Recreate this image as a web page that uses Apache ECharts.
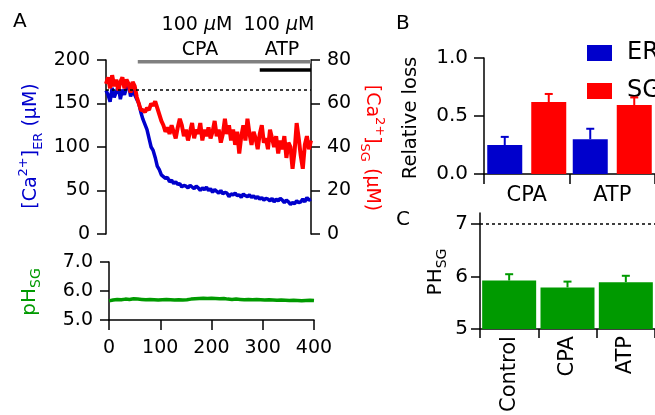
<!DOCTYPE html>
<html><head><meta charset="utf-8">
<script src="https://cdn.jsdelivr.net/npm/echarts@6/dist/echarts.min.js"></script>
<style>html,body{margin:0;padding:0;background:#fff}#c{width:655px;height:415px}</style>
</head><body><div id="c"></div>
<script>
// ---- Data ----
const sampleStep = 4; // s, Ca traces
const phStep = 8;     // s, pH trace
const caER = [165,160,152,168,157,163,170,155,166,160,168,172,158,165,160,
  155,150,140,132,126,120,110,100,96,88,
  78,74,68,66,64,65,60,62,58,60,
  57,58,54,56,55,53,56,54,52,55,
  53,50,53,51,54,50,52,48,51,49,
  47,50,46,48,47,43,46,45,47,44,
  45,42,46,44,43,45,42,44,41,43,
  40,42,39,41,40,38,41,37,40,38,
  41,39,36,39,37,34,36,35,38,36,
  37,40,37,42,39,40];
const caSG = [69,72,67,73,68,71,66,70,72,67,71,69,65,70,68,
  63,60,57,
  57,56,58,57,60,59,61,58,55,
  52,50,47,49,46,50,47,44,49,53,
  50,45,48,43,47,51,44,48,46,51,
  43,48,45,49,44,47,52,45,48,42,
  46,53,46,50,43,48,41,47,37,45,
  50,43,53,46,41,47,44,39,46,50,
  42,44,39,48,44,40,45,37,43,39,
  45,35,42,40,30,38,51,44,36,30,
  41,45,39,43];
const phSG = [5.66,5.69,5.71,5.70,5.72,5.71,5.73,5.72,5.71,5.70,
  5.71,5.70,5.69,5.70,5.71,5.70,5.69,5.70,5.69,5.70,
  5.72,5.73,5.74,5.75,5.74,5.75,5.74,5.73,5.74,5.72,
  5.71,5.72,5.71,5.70,5.71,5.70,5.71,5.70,5.69,5.70,
  5.69,5.68,5.69,5.68,5.67,5.68,5.67,5.66,5.67,5.68,5.67];
const baselineER = 166;
const cpaSpan = [62, 400];
const atpSpan = [300, 400];
const timeTicks = [0, 400, 100];

const lossCats = ['CPA', 'ATP'];
const lossER = [0.25, 0.30];
const lossERerr = [0.07, 0.09];
const lossSG = [0.62, 0.595];
const lossSGerr = [0.07, 0.065];

const phCats = ['Control', 'CPA', 'ATP'];
const phBar = [5.92, 5.79, 5.89];
const phBarErr = [0.12, 0.11, 0.12];
const phRef = 7;

// ---- Styles ----
const FONT = 'DejaVu Sans';
const BLUE = '#0000cc', RED = '#ff0000', GREEN = '#009a00';
const axisLine = {show: true, lineStyle: {color: '#000', width: 1.5}};
const tick = (len) => ({show: true, inside: false, length: len, lineStyle: {color: '#000', width: 1.5}});
const lbl = (size, margin, extra) => Object.assign({color: '#000', fontFamily: FONT, fontSize: size, margin: margin}, extra || {});

const toXY = (arr, step) => arr.map((v, i) => [i * step, v]);

const chart = echarts.init(document.getElementById('c'), null, {renderer: 'canvas'});

const bw = 35, gapPx = 9;
function errRender(offset, color, capHalf) {
  return function (params, api) {
    const c = api.value(0), v = api.value(1), e = api.value(2);
    const b = api.coord([c, v]);
    const t = api.coord([c, v + e]);
    const x = b[0] + offset;
    return {type: 'group', children: [
      {type: 'line', shape: {x1: x, y1: b[1], x2: x, y2: t[1]}, style: {stroke: color, lineWidth: 2}},
      {type: 'line', shape: {x1: x - capHalf, y1: t[1], x2: x + capHalf, y2: t[1]}, style: {stroke: color, lineWidth: 2}}
    ]};
  };
}
const muText = (x, y) => ({type: 'text', x: x, y: y, style: {text: '{n|100 }{m|μ}{n|M}', align: 'center', verticalAlign: 'middle',
  rich: {n: {fontSize: 19, fontFamily: FONT, fill: '#000'}, m: {fontSize: 19, fontFamily: FONT, fontStyle: 'italic', fill: '#000'}}}});
const caTitle = (x, y, rot, sub, color) => ({type: 'text', x: x, y: y, rotation: rot, style: {
  text: '{a|[Ca}{s|2+}{a|]}{b|' + sub + '}{a| (μM)}', align: 'center', verticalAlign: 'middle',
  rich: {a: {fontSize: 19, fontFamily: FONT, fill: color, lineHeight: 28},
    s: {fontSize: 13, fontFamily: FONT, fill: color, verticalAlign: 'top', lineHeight: 14},
    b: {fontSize: 13, fontFamily: FONT, fill: color, verticalAlign: 'bottom', lineHeight: 14}}}});

const option = {
  animation: false,
  textStyle: {fontFamily: FONT},
  grid: [
    {left: 106, top: 60, width: 205, height: 174},
    {left: 109, top: 262, width: 205, height: 58},
    {left: 484, top: 58, width: 174, height: 116},
    {left: 480, top: 213, width: 177, height: 117}
  ],
  legend: {
    data: ['ER', 'SG'], orient: 'vertical', left: 582, top: 36, itemGap: 14,
    icon: 'rect', itemWidth: 25, itemHeight: 16,
    textStyle: {fontFamily: FONT, fontSize: 24, color: '#000', padding: [0, 0, 0, 10], lineHeight: 16}
  },
  xAxis: [
    {gridIndex: 0, type: 'value', min: timeTicks[0], max: timeTicks[1], show: false},
    {gridIndex: 1, type: 'value', min: timeTicks[0], max: timeTicks[1], interval: timeTicks[2],
      axisLine: axisLine, axisTick: tick(10), axisLabel: lbl(19, 19), splitLine: {show: false}},
    {gridIndex: 2, type: 'category', data: lossCats, axisLine: axisLine,
      axisTick: tick(10), axisLabel: lbl(21, 11)},
    {gridIndex: 3, type: 'category', data: phCats, axisLine: axisLine,
      axisTick: tick(9), axisLabel: lbl(21, 7, {rotate: 90})}
  ],
  yAxis: [
    {gridIndex: 0, type: 'value', min: 0, max: 200, interval: 50, position: 'left',
      axisLine: axisLine, axisTick: tick(9), axisLabel: lbl(19, 16), splitLine: {show: false}},
    {gridIndex: 0, type: 'value', min: 0, max: 80, interval: 20, position: 'right',
      axisLine: axisLine, axisTick: tick(9), axisLabel: lbl(19, 16), splitLine: {show: false}},
    {gridIndex: 1, type: 'value', min: 5, max: 7, interval: 1,
      axisLine: axisLine, axisTick: tick(9), axisLabel: lbl(19, 16, {formatter: v => v.toFixed(1)}), splitLine: {show: false}},
    {gridIndex: 2, type: 'value', min: 0, max: 1, interval: 0.5,
      axisLine: axisLine, axisTick: tick(10), axisLabel: lbl(20, 16, {formatter: v => v.toFixed(1)}), splitLine: {show: false}},
    {gridIndex: 3, type: 'value', min: 5, max: 7.2, interval: 1,
      axisLine: axisLine, axisTick: Object.assign(tick(9), {customValues: [5, 6, 7]}),
      axisLabel: lbl(20, 12, {customValues: [5, 6, 7]}), splitLine: {show: false}}
  ],
  series: [
    {type: 'line', xAxisIndex: 0, yAxisIndex: 0, data: toXY(caER, sampleStep), showSymbol: false,
      lineStyle: {color: BLUE, width: 3.5}, itemStyle: {color: BLUE}, z: 3,
      markLine: {silent: true, symbol: 'none', label: {show: false},
        lineStyle: {type: [3, 3], color: '#000', width: 1.5}, data: [{yAxis: baselineER}]}},
    {type: 'line', xAxisIndex: 0, yAxisIndex: 1, data: toXY(caSG, sampleStep), showSymbol: false,
      lineStyle: {color: RED, width: 4}, itemStyle: {color: RED}, z: 4},
    {type: 'line', xAxisIndex: 0, yAxisIndex: 0, data: cpaSpan.map(t => [t, 198]), showSymbol: false,
      lineStyle: {color: '#808080', width: 3.5}, z: 5},
    {type: 'line', xAxisIndex: 0, yAxisIndex: 0, data: atpSpan.map(t => [t, 188.5]), showSymbol: false,
      lineStyle: {color: '#000', width: 3.5}, z: 5},
    {type: 'line', xAxisIndex: 1, yAxisIndex: 2, data: toXY(phSG, phStep), showSymbol: false,
      lineStyle: {color: GREEN, width: 3.5}, itemStyle: {color: GREEN}},
    {name: 'ER', type: 'bar', xAxisIndex: 2, yAxisIndex: 3, data: lossER, barWidth: bw, barGap: (gapPx / bw * 100) + '%',
      itemStyle: {color: BLUE}},
    {name: 'SG', type: 'bar', xAxisIndex: 2, yAxisIndex: 3, data: lossSG, barWidth: bw, barGap: (gapPx / bw * 100) + '%',
      itemStyle: {color: RED}},
    {type: 'custom', xAxisIndex: 2, yAxisIndex: 3, renderItem: errRender(-(bw + gapPx) / 2, BLUE, 4),
      data: lossER.map((v, i) => [i, v, lossERerr[i]]), z: 10},
    {type: 'custom', xAxisIndex: 2, yAxisIndex: 3, renderItem: errRender((bw + gapPx) / 2, RED, 4),
      data: lossSG.map((v, i) => [i, v, lossSGerr[i]]), z: 10},
    {type: 'bar', xAxisIndex: 3, yAxisIndex: 4, data: phBar, barWidth: 54, itemStyle: {color: GREEN},
      markLine: {silent: true, symbol: 'none', label: {show: false},
        lineStyle: {type: [3, 3], color: '#000', width: 1.5}, data: [{yAxis: phRef}]}},
    {type: 'custom', xAxisIndex: 3, yAxisIndex: 4, renderItem: errRender(0, GREEN, 4),
      data: phBar.map((v, i) => [i, v, phBarErr[i]]), z: 10}
  ],
  graphic: [
    {type: 'text', x: 13, y: 12, style: {text: 'A', font: '20px "DejaVu Sans"', fill: '#000'}},
    {type: 'text', x: 396, y: 14, style: {text: 'B', font: '20px "DejaVu Sans"', fill: '#000'}},
    {type: 'text', x: 396, y: 210, style: {text: 'C', font: '20px "DejaVu Sans"', fill: '#000'}},
    muText(197, 25),
    {type: 'text', x: 200, y: 50, style: {text: 'CPA', font: '19px "DejaVu Sans"', fill: '#000', align: 'center', verticalAlign: 'middle'}},
    muText(279, 25),
    {type: 'text', x: 282, y: 50, style: {text: 'ATP', font: '19px "DejaVu Sans"', fill: '#000', align: 'center', verticalAlign: 'middle'}},
    caTitle(31, 146, Math.PI / 2, 'ER', BLUE),
    caTitle(372, 148, -Math.PI / 2, 'SG', RED),
    {type: 'text', x: 30, y: 292, rotation: Math.PI / 2, style: {
      text: '{a|pH}{b|SG}', align: 'center', verticalAlign: 'middle',
      rich: {a: {fontSize: 20, fontFamily: FONT, fill: GREEN, lineHeight: 26},
        b: {fontSize: 14, fontFamily: FONT, fill: GREEN, verticalAlign: 'bottom', lineHeight: 14}}}},
    {type: 'text', x: 411, y: 118, rotation: Math.PI / 2, style: {text: 'Relative loss', font: '19.5px "DejaVu Sans"', fill: '#000', align: 'center', verticalAlign: 'middle'}},
    {type: 'text', x: 436, y: 272, rotation: Math.PI / 2, style: {
      text: '{a|PH}{b|SG}', align: 'center', verticalAlign: 'middle',
      rich: {a: {fontSize: 20, fontFamily: FONT, fill: '#000', lineHeight: 26},
        b: {fontSize: 14, fontFamily: FONT, fill: '#000', verticalAlign: 'bottom', lineHeight: 14}}}}
  ]
};
chart.setOption(option);
</script></body></html>
